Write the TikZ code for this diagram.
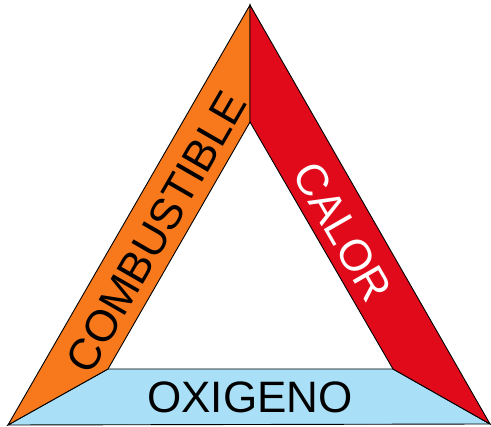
\documentclass[tikz,border=0pt]{standalone}
\usepackage{fontspec}
\setmainfont{Liberation Sans}
\definecolor{fuelorange}{HTML}{F7791C}
\definecolor{heatred}{HTML}{E10A1A}
\definecolor{oxyblue}{HTML}{A9E0F7}
\begin{document}
\begin{tikzpicture}[x=1pt,y=-1pt,
  side/.style={draw=black,line width=0.9pt,line join=miter},
  lbl/.style={font=\fontsize{44}{44}\selectfont,inner sep=0pt}]
\useasboundingbox (0,0) rectangle (491,427);
\coordinate (apex) at (250,5);
\coordinate (bl) at (8,425);
\coordinate (br) at (490,424);
\coordinate (itop) at (250,122);
\coordinate (ibl) at (108,369);
\coordinate (ibr) at (393,369);
\filldraw[side,fill=oxyblue] (bl) -- (ibl) -- (ibr) -- (br) -- cycle;
\filldraw[side,fill=fuelorange] (apex) -- (itop) -- (ibl) -- (bl) -- cycle;
\filldraw[side,fill=heatred] (apex) -- (br) -- (ibr) -- (itop) -- cycle;
\node[lbl,rotate=60] (fuel) at (156,232) {COMBUSTIBLE};
\node[lbl,rotate=-60,text=white] (heat) at (343,232) {CALOR};
\node[lbl] (oxy) at (250,397) {OXIGENO};
\end{tikzpicture}
\end{document}
